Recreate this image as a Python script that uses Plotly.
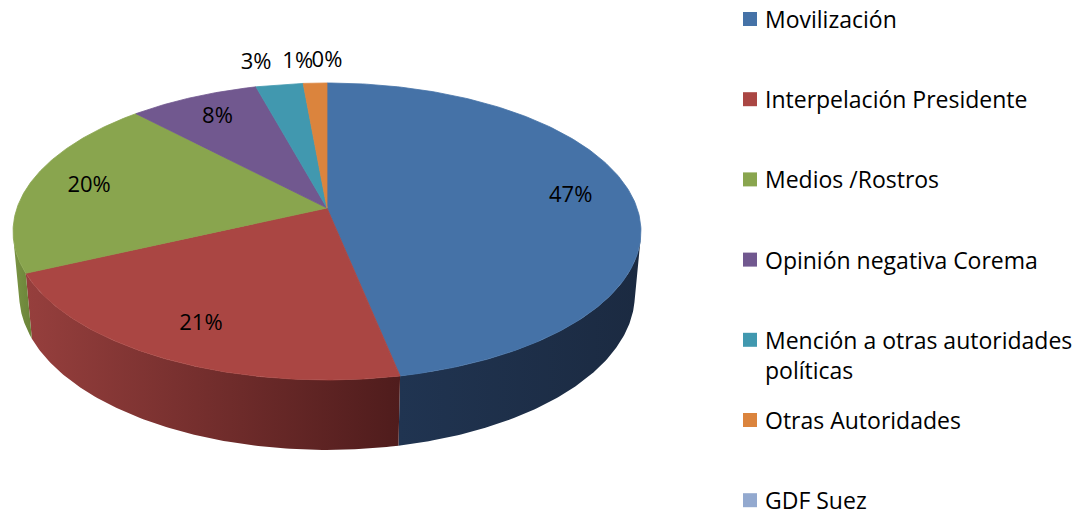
import numpy as np
import plotly.graph_objects as go

# data
categories = ["Movilización", "Interpelación Presidente", "Medios /Rostros",
              "Opinión negativa Corema", "Mención a otras autoridades políticas",
              "Otras Autoridades", "GDF Suez"]
counts = [66, 30, 28, 11, 4, 2, 0]
legend_text = ["Movilización", "Interpelación Presidente", "Medios /Rostros",
               "Opinión negativa Corema", "Mención a otras autoridades<br>políticas",
               "Otras Autoridades", "GDF Suez"]

top_colors = ["#4572A7", "#AA4643", "#89A54E", "#71588F", "#4198AF", "#DB843D", "#93A9CF"]
side_colors = [("#203451", "#1B2A41"), ("#963F3D", "#4F1C1C"), ("#7A9444", "#6A8338"),
               ("#5A4672", "#4A3A5E"), ("#34798C", "#2A6373"), ("#B06A30", "#8F5627"),
               ("#7687A6", "#5F6E88")]

FONT = "Open Sans"
PAGE_PAD = 8  # default body margin of the html page

# 3d pie geometry (pixel space)
CX, CY = 327, 208
F, D = 1733.0, 5.59
SIN_A, COS_A = 0.467, 0.884
H = 0.232


def project(theta, r=1.0, z=0.0):
    u = r * np.sin(theta)
    v = -r * np.cos(theta)
    depth = D - v * COS_A - z * SIN_A
    x = CX + F * u / depth
    y = CY + F * (v * SIN_A - z * COS_A) / depth
    return x, y


total = sum(counts)
fracs = [c / total for c in counts]
bounds = np.concatenate([[0], np.cumsum(fracs)]) * 2 * np.pi

# side of the cylinder that faces the camera
v_min = 1.0 / (D * COS_A)
t_lo = np.arccos(-v_min)
t_hi = 2 * np.pi - t_lo

fig = go.Figure()

# side walls
for i in range(len(counts)):
    a, b = max(bounds[i], t_lo), min(bounds[i + 1], t_hi)
    if b <= a:
        continue
    ts = np.linspace(a, b, 120)
    xt, yt = project(ts, 1.0, 0.0)
    xb, yb = project(ts[::-1], 1.0, -H)
    xs = np.concatenate([xt, xb, xt[:1]])
    ys = np.concatenate([yt, yb, yt[:1]])
    fig.add_trace(go.Scatter(
        x=xs, y=ys, mode="lines", fill="toself",
        line=dict(width=0),
        fillgradient=dict(type="horizontal",
                          colorscale=[[0, side_colors[i][0]], [1, side_colors[i][1]]]),
        hoverinfo="skip", showlegend=False
    ))

# top faces
for i in range(len(counts)):
    if counts[i] == 0:
        continue
    ts = np.linspace(bounds[i], bounds[i + 1], 200)
    xa, ya = project(ts)
    xs = np.concatenate([[CX], xa, [CX]])
    ys = np.concatenate([[CY], ya, [CY]])
    fig.add_trace(go.Scatter(
        x=xs, y=ys, mode="lines", fill="toself",
        line=dict(width=0.8, color=top_colors[i]), fillcolor=top_colors[i],
        name=categories[i], hoverinfo="name", showlegend=False
    ))

# percentage labels
lx, ly, lt, lp = [], [], [], []
for i in range(len(counts)):
    mid = (bounds[i] + bounds[i + 1]) / 2
    pct = f"{round(100 * fracs[i])}%"
    if fracs[i] >= 0.05:
        x, y = project(mid, 0.8)
        pos = "middle center"
    else:
        x, y = project(mid, 1.2)
        s = np.sin(mid)
        pos = "middle left" if s < -0.01 else ("middle right" if s > 0.01 else "middle center")
    lx.append(float(x)); ly.append(float(y)); lt.append(pct); lp.append(pos)

fig.add_trace(go.Scatter(
    x=lx, y=ly, mode="text", text=lt, textposition=lp,
    textfont=dict(family=FONT, size=22, color="#000000"),
    hoverinfo="skip", showlegend=False, cliponaxis=False
))

# legend on the right
leg_x, leg_y0, leg_step = 750, 19, 80.2
leg_y = [leg_y0 + k * leg_step for k in range(len(categories))]
fig.add_trace(go.Scatter(
    x=[leg_x] * len(categories), y=leg_y, mode="markers",
    marker=dict(symbol="square", size=14, color=top_colors, line=dict(width=0)),
    hoverinfo="skip", showlegend=False, cliponaxis=False
))
annotations = []
for k, txt in enumerate(legend_text):
    nl = txt.count("<br>")
    annotations.append(dict(
        x=763, y=leg_y[k], xref="x", yref="y", text=txt, showarrow=False,
        xanchor="left", yanchor="middle", align="left",
        yshift=-nl * 15,
        font=dict(family=FONT, size=23, color="#000000")
    ))

fig.update_layout(
    width=1081 - PAGE_PAD, height=513 - PAGE_PAD,
    margin=dict(l=0, r=0, t=0, b=0),
    paper_bgcolor="white", plot_bgcolor="white",
    xaxis=dict(range=[PAGE_PAD, 1081], visible=False, fixedrange=True),
    yaxis=dict(range=[513, PAGE_PAD], visible=False, fixedrange=True),
    annotations=annotations,
    showlegend=False,
)

fig.write_html("out.html")
